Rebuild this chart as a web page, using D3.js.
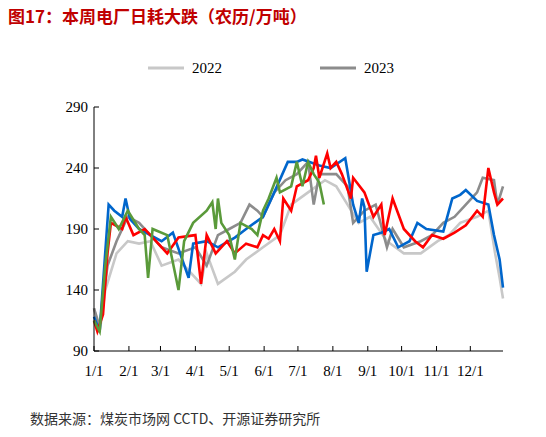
<!DOCTYPE html><html><head><meta charset="utf-8"><script src="https://cdn.jsdelivr.net/npm/d3@7"></script>
<style>body{margin:0;background:#fff}</style></head><body><svg id="c" width="546" height="437"></svg><script>
const ticksY=[90,140,190,240,290];
const monthLabels=["1/1","2/1","3/1","4/1","5/1","6/1","7/1","8/1","9/1","10/1","11/1","12/1"];
const monthDays=[0,31,59,90,120,151,181,212,243,273,304,334];
const s2022=[[0,125],[5,105],[10,140],[20,170],[30,180],[40,178],[50,180],[60,160],[75,165],[95,145],[100,170],[110,145],[125,155],[135,165],[150,175],[165,185],[175,210],[190,220],[205,230],[215,225],[225,210],[235,195],[245,200],[260,180],[275,170],[290,170],[305,180],[315,185],[325,195],[340,200],[350,205],[356,170],[360,150],[363,133]];
const s2023=[[0,125],[5,110],[12,160],[20,180],[30,200],[40,195],[50,185],[60,175],[75,170],[90,175],[100,160],[110,185],[120,190],[130,195],[138,210],[145,205],[150,200],[160,220],[170,230],[180,235],[190,245],[195,210],[200,235],[215,235],[225,225],[230,195],[240,205],[250,210],[260,175],[265,190],[275,175],[290,180],[300,185],[310,195],[320,200],[330,210],[340,220],[345,232],[355,230],[358,210],[363,225]];
const sBlue=[[0,118],[5,106],[13,210],[18,205],[25,200],[28,215],[32,198],[40,190],[50,185],[60,180],[70,187],[84,150],[88,178],[100,180],[110,175],[125,183],[135,190],[150,200],[160,220],[172,245],[180,245],[185,247],[200,242],[210,240],[223,248],[230,210],[235,195],[238,215],[240,208],[242,155],[248,185],[255,187],[262,190],[270,175],[280,180],[287,195],[295,190],[310,188],[318,215],[325,218],[330,222],[340,213],[350,210],[355,185],[360,165],[363,142]];
const sRed=[[0,115],[3,106],[8,120],[12,170],[15,195],[25,190],[28,200],[35,185],[45,190],[55,180],[65,170],[75,183],[90,185],[95,145],[100,185],[108,170],[118,180],[125,170],[135,178],[145,175],[150,185],[155,182],[160,190],[165,180],[168,215],[175,205],[180,225],[190,230],[195,240],[197,250],[200,232],[207,252],[210,240],[215,245],[220,235],[228,215],[230,232],[240,220],[248,200],[255,210],[258,185],[265,215],[275,190],[285,180],[292,175],[300,185],[310,182],[320,187],[330,193],[340,205],[345,200],[350,240],[355,220],[358,210],[363,215]];
const sGreen=[[0,115],[5,106],[10,160],[15,200],[22,190],[30,205],[40,190],[45,185],[48,150],[52,190],[65,185],[75,140],[80,180],[88,195],[100,205],[105,212],[108,190],[110,215],[113,195],[120,185],[125,165],[130,195],[140,190],[145,185],[150,205],[155,215],[162,232],[165,220],[175,225],[180,245],[185,225],[190,245],[195,235],[200,228],[204,210]];
const series=[{d:s2022,c:"#c8c8c8"},{d:s2023,c:"#8c8c8c"},{d:sBlue,c:"#0066cc"},{d:sRed,c:"#ff0000"},{d:sGreen,c:"#5a9a3a"}];
const svg=d3.select("#c");
const x=d3.scaleLinear().domain([0,363]).range([94,503]);
const y=d3.scaleLinear().domain([90,290]).range([351,107]);
const F="Times New Roman, Liberation Serif, serif";
svg.append("text").attr("x",8).attr("y",23).attr("fill","#c00000").attr("font-weight","bold").attr("font-size",17).attr("font-family","Noto Sans CJK SC").text("图17：本周电厂日耗大跌（农历/万吨）");
const line=d3.line().x(d=>x(d[0])).y(d=>y(d[1]));
series.forEach(s=>svg.append("path").attr("d",line(s.d)).attr("fill","none").attr("stroke",s.c).attr("stroke-width",2.6));
svg.append("line").attr("x1",94).attr("x2",94).attr("y1",107).attr("y2",351).attr("stroke","#000");
svg.append("line").attr("x1",94).attr("x2",503).attr("y1",351).attr("y2",351).attr("stroke","#000");
ticksY.forEach(t=>{svg.append("line").attr("x1",94).attr("x2",99).attr("y1",y(t)).attr("y2",y(t)).attr("stroke","#000");
svg.append("text").attr("x",88).attr("y",y(t)+5).attr("text-anchor","end").attr("font-family",F).attr("font-size",15).text(t);});
monthDays.forEach((m,i)=>{svg.append("line").attr("x1",x(m)).attr("x2",x(m)).attr("y1",351).attr("y2",346).attr("stroke","#000");
svg.append("text").attr("x",x(m)).attr("y",376).attr("text-anchor","middle").attr("font-family",F).attr("font-size",15).text(monthLabels[i]);});
[[148,"#c8c8c8","2022"],[320,"#8c8c8c","2023"]].forEach(l=>{svg.append("line").attr("x1",l[0]).attr("x2",l[0]+36).attr("y1",68).attr("y2",68).attr("stroke",l[1]).attr("stroke-width",3);
svg.append("text").attr("x",l[0]+44).attr("y",73).attr("font-family",F).attr("font-size",15).text(l[2]);});
svg.append("text").attr("x",30).attr("y",424).attr("font-family","Noto Sans CJK SC").attr("font-size",14).attr("fill","#333").text("数据来源：煤炭市场网 CCTD、开源证券研究所");
</script></body></html>
